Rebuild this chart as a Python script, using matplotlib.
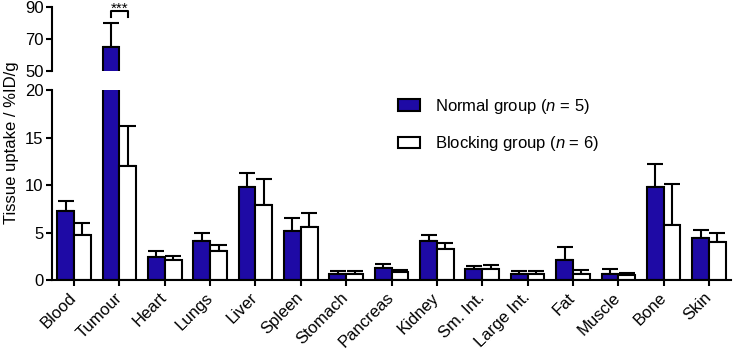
import matplotlib.pyplot as plt
import numpy as np

plt.rcParams['font.family'] = ['Liberation Sans', 'DejaVu Sans']
plt.rcParams['mathtext.fontset'] = 'custom'
plt.rcParams['mathtext.rm'] = 'Liberation Sans'
plt.rcParams['mathtext.it'] = 'Liberation Sans:italic'

tissues = ['Blood', 'Tumour', 'Heart', 'Lungs', 'Liver', 'Spleen', 'Stomach', 'Pancreas',
           'Kidney', 'Sm. Int.', 'Large Int.', 'Fat', 'Muscle', 'Bone', 'Skin']
normal = [7.25, 65.1, 2.47, 4.1, 9.8, 5.2, 0.64, 1.27, 4.06, 1.16, 0.6, 2.12, 0.67, 9.75, 4.41]
normal_sd = [1.05, 15.1, 0.63, 0.9, 1.5, 1.3, 0.26, 0.38, 0.71, 0.36, 0.32, 1.34, 0.46, 2.45, 0.82]
blocking = [4.7, 12.0, 2.1, 3.07, 7.95, 5.55, 0.64, 0.85, 3.25, 1.2, 0.64, 0.6, 0.53, 5.76, 3.96]
blocking_sd = [1.3, 4.2, 0.4, 0.63, 2.65, 1.55, 0.26, 0.21, 0.6, 0.39, 0.28, 0.49, 0.24, 4.34, 0.98]

blue = '#1E0AA5'
w = 0.37
x = np.arange(len(tissues))

fig = plt.figure(figsize=(7.33, 3.52), dpi=100)
ax_top = fig.add_axes([0.071, 0.798, 0.926, 0.182])
ax = fig.add_axes([0.071, 0.2045, 0.926, 0.5395])


def draw(a):
    a.errorbar(x - w/2, normal, yerr=[np.zeros(len(x)), normal_sd], fmt='none',
               ecolor='black', elinewidth=1.5, capsize=5.5, capthick=1.5, zorder=1)
    a.errorbar(x + w/2, blocking, yerr=[np.zeros(len(x)), blocking_sd], fmt='none',
               ecolor='black', elinewidth=1.5, capsize=5.5, capthick=1.5, zorder=1)
    a.bar(x - w/2, normal, w, color=blue, edgecolor='black', linewidth=1.5, zorder=2,
          label='Normal group ($n$ = 5)')
    a.bar(x + w/2, blocking, w, color='white', edgecolor='black', linewidth=1.5, zorder=2,
          label='Blocking group ($n$ = 6)')
    a.set_xlim(-0.485, 14.48)
    for s in ['top', 'right']:
        a.spines[s].set_visible(False)
    a.spines['left'].set_linewidth(1.5)
    a.spines['bottom'].set_linewidth(1.5)
    a.tick_params(width=1.5, length=4, labelsize=12, pad=2)


draw(ax_top)
draw(ax)

ax_top.set_ylim(50, 90)
ax_top.set_yticks([50, 70, 90])
ax_top.spines['bottom'].set_visible(False)
ax_top.set_xticks([])

ax.set_ylim(0, 20)
ax.set_yticks([0, 5, 10, 15, 20])
ax.set_xticks(x)
ax.set_xticklabels(tissues, rotation=45, ha='right', va='center', rotation_mode='anchor')
ax.tick_params(axis='x', pad=7)

# significance bracket on Tumour
ax_top.plot([1 - w/2, 1 - w/2, 1 + w/2, 1 + w/2], [84, 87.3, 87.3, 84], color='black',
            lw=1.5, clip_on=False)
ax_top.text(1, 86.3, '***', ha='center', va='baseline', fontsize=11)

fig.text(0.016, 0.595, 'Tissue uptake / %ID/g', rotation=90, ha='center', va='center',
         fontsize=12)

ax.legend(loc='upper left', bbox_to_anchor=(0.543, 0.725), bbox_transform=fig.transFigure,
          frameon=False, fontsize=12, handlelength=1.3, handleheight=0.65,
          handletextpad=0.9, labelspacing=1.1, borderpad=0, borderaxespad=0)

fig.savefig('out.png', dpi=100)
